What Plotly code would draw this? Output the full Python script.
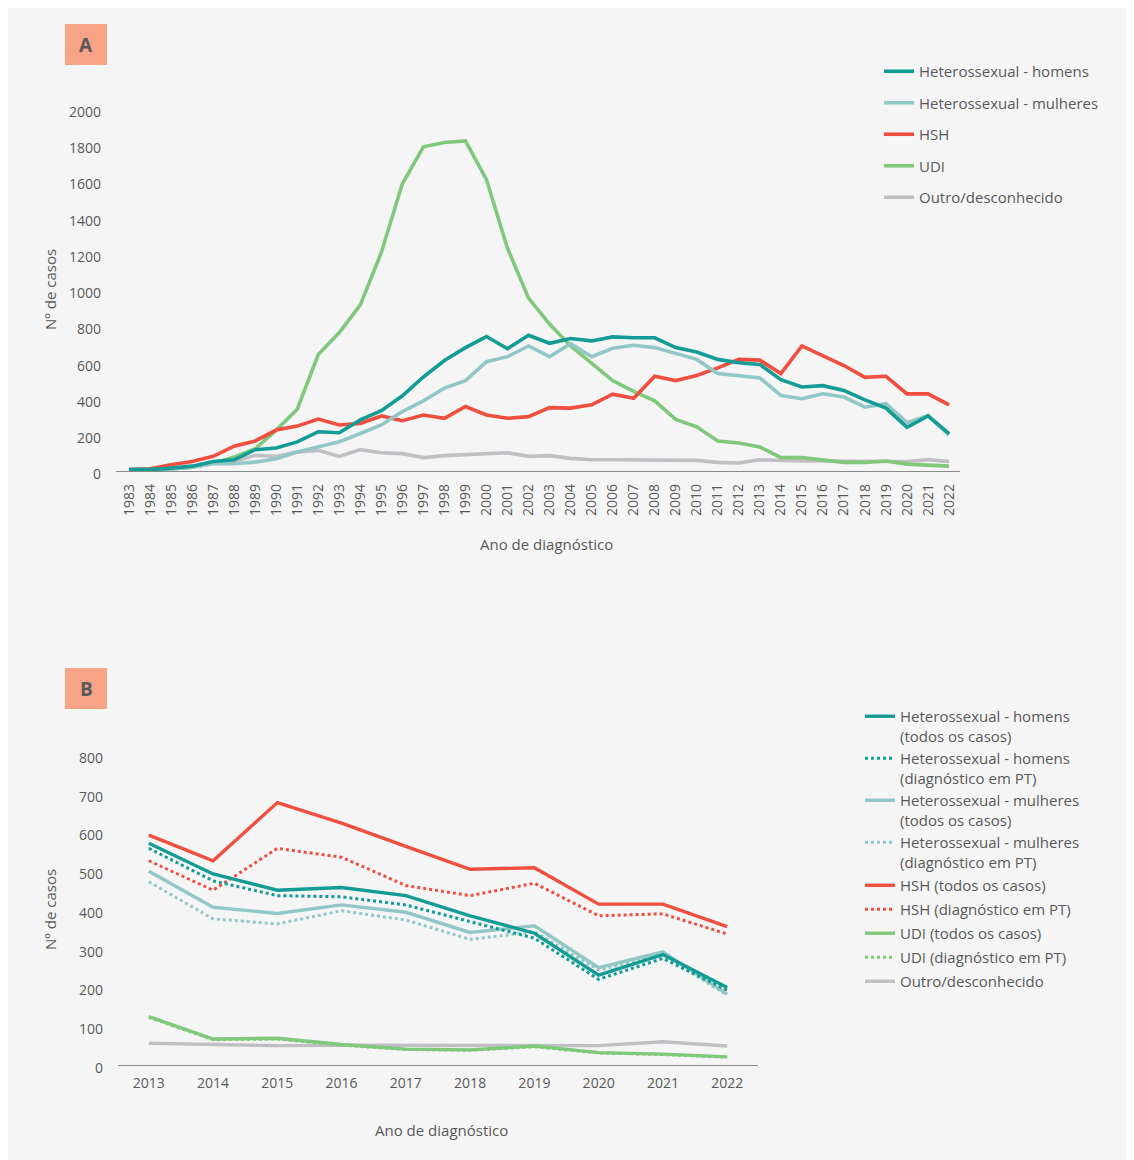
import plotly.graph_objects as go

OFF = 8  # page body margin offset
W, H = 1134 - OFF, 1160 - OFF

# ---------------- Panel A data ----------------
years_a = list(range(1983, 2023))
het_homens_a = [5, 5, 13, 24, 50, 59, 115, 124, 158, 214, 208, 279, 330, 412, 516, 607, 678, 739, 672, 746,
                702, 728, 715, 737, 732, 732, 678, 654, 613, 594, 585, 501, 461, 468, 442, 390, 344, 238, 301, 204]
het_mulheres_a = [5, 5, 10, 18, 37, 37, 46, 65, 102, 130, 158, 204, 251, 325, 384, 455, 496, 600, 628, 687,
                  628, 700, 628, 674, 691, 678, 646, 613, 535, 524, 511, 414, 396, 423, 405, 349, 368, 264, 303, 195]
hsh_a = [5, 10, 32, 50, 78, 134, 163, 223, 245, 284, 251, 260, 301, 275, 306, 288, 353, 306, 288, 297,
         347, 344, 362, 421, 399, 520, 496, 524, 566, 613, 609, 535, 687, 635, 579, 514, 520, 423, 423, 362]
udi_a = [5, 5, 8, 18, 40, 74, 120, 223, 338, 640, 761, 914, 1203, 1582, 1786, 1810, 1818, 1605, 1226, 951,
         808, 687, 594, 496, 436, 384, 282, 241, 163, 152, 130, 71, 71, 56, 45, 45, 52, 35, 30, 24]
outro_a = [3, 5, 10, 20, 40, 50, 84, 78, 102, 111, 78, 115, 98, 93, 71, 82, 87, 96, 98, 78,
           82, 67, 59, 59, 59, 59, 57, 56, 45, 41, 59, 55, 52, 52, 50, 52, 50, 50, 60, 50]

# ---------------- Panel B data ----------------
years_b = list(range(2013, 2023))
het_homens_b = [567, 488, 446, 453, 432, 380, 335, 227, 280, 195]
het_homens_pt_b = [554, 470, 432, 429, 408, 365, 322, 216, 270, 188]
het_mulheres_b = [495, 402, 386, 408, 389, 337, 354, 246, 287, 178]
het_mulheres_pt_b = [468, 372, 359, 393, 369, 319, 339, 240, 279, 175]
hsh_b = [588, 522, 672, 619, 559, 500, 504, 410, 410, 352]
hsh_pt_b = [522, 446, 554, 531, 458, 432, 464, 380, 385, 333]
udi_b = [120, 62, 64, 48, 36, 34, 44, 27, 23, 16]
udi_pt_b = [118, 60, 62, 46, 35, 33, 42, 26, 22, 15]
outro_b = [51, 49, 45, 46, 46, 46, 45, 45, 55, 44]

C_TEAL = "#139b95"
C_LTEAL = "#91c8c6"
C_RED = "#f04e3e"
C_GREEN = "#80c97c"
C_GRAY = "#c0bfc4"
TXT = "#595959"
FONT = "Open Sans"


def px_x(p):
    return (p - OFF) / W


def px_y(p):
    return 1 - (p - OFF) / H


fig = go.Figure()

# Panel A traces (drawn bottom to top)
a_series = [
    ("Outro/desconhecido", outro_a, C_GRAY, 5),
    ("UDI", udi_a, C_GREEN, 4),
    ("HSH", hsh_a, C_RED, 3),
    ("Heterossexual - mulheres", het_mulheres_a, C_LTEAL, 2),
    ("Heterossexual - homens", het_homens_a, C_TEAL, 1),
]
for name, vals, col, rank in a_series:
    fig.add_trace(go.Scatter(
        x=years_a, y=vals, name=name, mode="lines",
        line=dict(color=col, width=3.6),
        xaxis="x", yaxis="y", legend="legend",
        legendrank=rank, legendgroup="a" + str(rank),
    ))

# Panel B traces (two-line legend entries in legend2, one-line entries in legend3)
b_series = [
    ("Outro/desconhecido", outro_b, C_GRAY, "solid", 9, "legend3"),
    ("UDI (diagnóstico em PT)", udi_pt_b, C_GREEN, "dot", 8, "legend3"),
    ("UDI (todos os casos)", udi_b, C_GREEN, "solid", 7, "legend3"),
    ("HSH (diagnóstico em PT)", hsh_pt_b, C_RED, "dot", 6, "legend3"),
    ("HSH (todos os casos)", hsh_b, C_RED, "solid", 5, "legend3"),
    ("Heterossexual - mulheres<br>(diagnóstico em PT)", het_mulheres_pt_b, C_LTEAL, "dot", 4, "legend2"),
    ("Heterossexual - mulheres<br>(todos os casos)", het_mulheres_b, C_LTEAL, "solid", 3, "legend2"),
    ("Heterossexual - homens<br>(diagnóstico em PT)", het_homens_pt_b, C_TEAL, "dot", 2, "legend2"),
    ("Heterossexual - homens<br>(todos os casos)", het_homens_b, C_TEAL, "solid", 1, "legend2"),
]
for name, vals, col, dash, rank, leg in b_series:
    fig.add_trace(go.Scatter(
        x=years_b, y=vals, name=name, mode="lines",
        line=dict(color=col, width=3.4 if dash == "solid" else 3, dash=dash),
        xaxis="x2", yaxis="y2", legend=leg,
        legendrank=rank, legendgroup="b" + str(rank),
    ))

tickfont = dict(family=FONT, size=14, color=TXT)
titlefont = dict(family=FONT, size=15, color=TXT)
legfont = dict(family=FONT, size=15, color=TXT)

fig.update_layout(
    width=W, height=H,
    margin=dict(l=0, r=0, t=0, b=0),
    paper_bgcolor="#f5f5f5",
    plot_bgcolor="rgba(0,0,0,0)",
    font=dict(family=FONT, color=TXT),
    xaxis=dict(
        domain=[px_x(116), px_x(960)],
        range=[1982.38, 2022.52],
        tickmode="array", tickvals=years_a, ticktext=[str(y) for y in years_a],
        tickangle=-90, tickfont=tickfont,
        showgrid=False, zeroline=False,
        showline=True, linecolor="#8a8a8a", linewidth=1,
        ticks="", automargin=False, ticklabelstandoff=6,
        anchor="y",
    ),
    yaxis=dict(
        domain=[px_y(471.4), px_y(108)],
        range=[-5, 2000],
        tickvals=list(range(0, 2001, 200)),
        tickfont=tickfont,
        showgrid=False, zeroline=False, showline=False,
        ticks="", automargin=False, ticklabelstandoff=14, ticklabelshift=4,
        anchor="x",
    ),
    xaxis2=dict(
        domain=[px_x(118), px_x(758)],
        range=[2012.52, 2022.48],
        tickvals=years_b, tickfont=tickfont,
        showgrid=False, zeroline=False,
        showline=True, linecolor="#8a8a8a", linewidth=1,
        ticks="", automargin=False, ticklabelstandoff=5,
        anchor="y2",
    ),
    yaxis2=dict(
        domain=[px_y(1065), px_y(753)],
        range=[-5, 800],
        tickvals=list(range(0, 801, 100)),
        tickfont=tickfont,
        showgrid=False, zeroline=False, showline=False,
        ticks="", automargin=False, ticklabelstandoff=14, ticklabelshift=5,
        anchor="x2",
    ),
    legend=dict(
        x=px_x(879), y=px_y(55), xanchor="left", yanchor="top",
        bgcolor="rgba(0,0,0,0)", font=legfont,
        tracegroupgap=9, traceorder="grouped",
    ),
    legend2=dict(
        x=px_x(860), y=px_y(700), xanchor="left", yanchor="top",
        bgcolor="rgba(0,0,0,0)", font=legfont,
        tracegroupgap=0, traceorder="grouped", valign="top",
    ),
    legend3=dict(
        x=px_x(860), y=px_y(869), xanchor="left", yanchor="top",
        bgcolor="rgba(0,0,0,0)", font=legfont,
        tracegroupgap=1.5, traceorder="grouped",
    ),
    shapes=[
        dict(type="rect", xref="paper", yref="paper", x0=px_x(65), x1=px_x(107), y0=px_y(65), y1=px_y(24),
             fillcolor="#f8a386", line=dict(width=0), layer="below"),
        dict(type="rect", xref="paper", yref="paper", x0=px_x(65), x1=px_x(107), y0=px_y(709), y1=px_y(668),
             fillcolor="#f8a386", line=dict(width=0), layer="below"),
    ],
    annotations=[
        dict(text="<b>A</b>", x=px_x(86), y=px_y(45), xref="paper", yref="paper", showarrow=False,
             font=dict(family=FONT, size=19, color=TXT), xanchor="center", yanchor="middle"),
        dict(text="<b>B</b>", x=px_x(86), y=px_y(689), xref="paper", yref="paper", showarrow=False,
             font=dict(family=FONT, size=19, color=TXT), xanchor="center", yanchor="middle"),
        dict(text="Nº de casos", x=px_x(50), y=px_y(290), xref="paper", yref="paper", showarrow=False,
             textangle=-90, font=titlefont, xanchor="center", yanchor="middle"),
        dict(text="Ano de diagnóstico", x=px_x(546), y=px_y(544), xref="paper", yref="paper", showarrow=False,
             font=titlefont, xanchor="center", yanchor="middle"),
        dict(text="Nº de casos", x=px_x(50), y=px_y(910), xref="paper", yref="paper", showarrow=False,
             textangle=-90, font=titlefont, xanchor="center", yanchor="middle"),
        dict(text="Ano de diagnóstico", x=px_x(441), y=px_y(1130), xref="paper", yref="paper", showarrow=False,
             font=titlefont, xanchor="center", yanchor="middle"),
    ],
)

fig.write_html("out.html")
